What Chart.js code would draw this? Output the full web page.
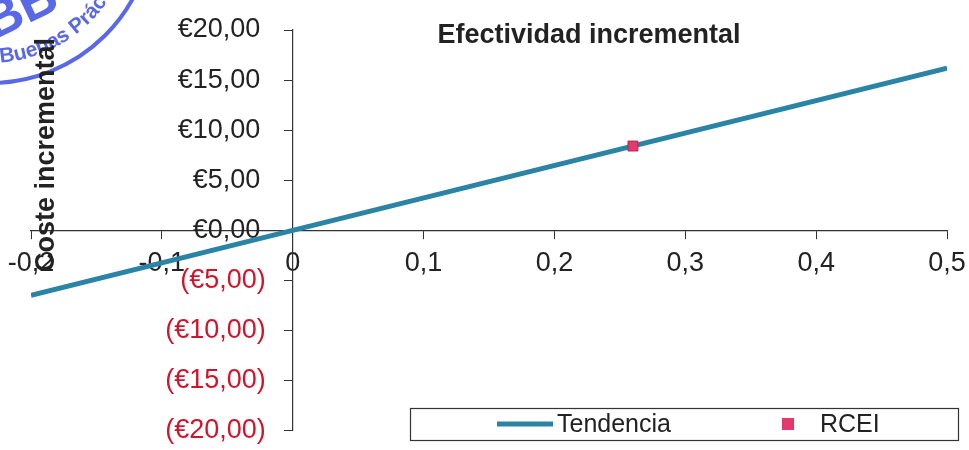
<!DOCTYPE html>
<html>
<head>
<meta charset="utf-8">
<script src="https://cdn.jsdelivr.net/npm/chart.js@4.4.0/dist/chart.umd.min.js"></script>
<style>
    body { margin: 0; background: #fff; }
    #wrap { width: 969px; height: 450px; }
</style>
</head>
<body>
<div id="wrap"><canvas id="cea_chart"></canvas></div>
<script>
// trend line and the RCEI point
const tendenciaX = [-0.2, 0, 0.5];
const tendenciaY = [-6.48, 0, 16.2];
const rceiX = [0.26];
const rceiY = [8.42];

const xMin = -0.2, xMax = 0.5, xStep = 0.1;
const yMin = -20, yMax = 20, yStep = 5;

const xTitle = "Efectividad incremental";
const yTitle = "Coste incremental";
const legendLabels = ["Tendencia", "RCEI"];

const lineColor = "#2b84a6";
const pointColor = "#e23a6c";
const negColor = "#d0142c";
const stampColor = "rgba(60,78,225,0.85)";
const fontFamily = "'Liberation Sans', Arial, sans-serif";

// euro format like the spreadsheet, negatives in brackets
// (trailing spaces keep the labels off the axis, the axis sits at x = 0)
formatEuro = (v) => {
    const s = "€" + Math.abs(v).toFixed(2).replace(".", ",");
    return v < 0 ? "(" + s + ")\u2002\u2002" : s + "\u2002\u2002\u2009";
}

formatDec = (v) => {
    const r = Math.round(v * 10) / 10;
    return r === 0 ? "0" : r.toString().replace(".", ",");
}

const toPoints = (xs, ys) => xs.map((x, i) => ({ x: x, y: ys[i] }));

// text bent round a circle, used for the stamp
arcText = (ctx, text, cx, cy, r, startAng) => {
    let ang = startAng;
    for (const ch of text) {
        const w = ctx.measureText(ch).width;
        ang -= (w / 2) / r;
        ctx.save();
        ctx.translate(cx + r * Math.cos(ang), cy + r * Math.sin(ang));
        ctx.rotate(ang - Math.PI / 2);
        ctx.fillText(ch, 0, 0);
        ctx.restore();
        ang -= (w / 2) / r;
    }
}

// titles, legend box and the stamp are drawn by hand
const extrasPlugin = {
    id: "extras",
    afterDraw: (chart) => {
        const ctx = chart.ctx;
        ctx.save();

        // stamp in the corner
        ctx.strokeStyle = stampColor;
        ctx.fillStyle = stampColor;
        ctx.lineWidth = 4;
        ctx.beginPath();
        ctx.arc(-10, -80, 163, 0, Math.PI);
        ctx.stroke();
        ctx.font = "bold 21px " + fontFamily;
        ctx.textAlign = "center";
        ctx.textBaseline = "alphabetic";
        arcText(ctx, "Buenas Prác", -10, -80, 143, 1.5);
        ctx.save();
        ctx.translate(-6, 40);
        ctx.rotate(-0.45);
        ctx.font = "bold 52px " + fontFamily;
        ctx.textAlign = "left";
        ctx.fillText("BB", 0, 0);
        ctx.restore();

        // x axis title sits at the top
        ctx.fillStyle = "#222";
        ctx.font = "bold 27px " + fontFamily;
        ctx.textAlign = "center";
        ctx.textBaseline = "middle";
        ctx.fillText(xTitle, 589, 36);

        // y axis title, rotated
        ctx.save();
        ctx.translate(47, 155);
        ctx.rotate(-Math.PI / 2);
        ctx.fillText(yTitle, 0, 0);
        ctx.restore();

        // legend box
        ctx.fillStyle = "#fff";
        ctx.fillRect(410, 408, 548, 32);
        ctx.strokeStyle = "#333";
        ctx.lineWidth = 1.2;
        ctx.strokeRect(410.5, 408.5, 548, 32);

        ctx.strokeStyle = lineColor;
        ctx.lineWidth = 5;
        ctx.beginPath();
        ctx.moveTo(497, 424);
        ctx.lineTo(553, 424);
        ctx.stroke();

        ctx.fillStyle = pointColor;
        ctx.fillRect(782, 418, 12, 12);

        ctx.fillStyle = "#222";
        ctx.font = "25px " + fontFamily;
        ctx.textAlign = "left";
        ctx.fillText(legendLabels[0], 557, 425);
        ctx.fillText(legendLabels[1], 820, 425);

        ctx.restore();
    }
};

createChart = () => {
    new Chart("cea_chart", {
        type: "scatter",
        data: {
            datasets: [{
                label: legendLabels[0],
                data: toPoints(tendenciaX, tendenciaY),
                showLine: true,
                borderColor: lineColor,
                borderWidth: 5,
                pointRadius: 0,
                order: 2
            }, {
                label: legendLabels[1],
                data: toPoints(rceiX, rceiY),
                pointStyle: "rect",
                pointRadius: 7,
                backgroundColor: pointColor,
                borderColor: "#b82452",
                borderWidth: 1,
                order: 1
            }]
        },
        options: {
            responsive: true,
            maintainAspectRatio: false,
            animation: false,
            layout: { padding: { left: 31, right: 22, top: 30, bottom: 3 } },
            plugins: {
                legend: { display: false },
                tooltip: { enabled: false }
            },
            scales: {
                x: {
                    type: "linear",
                    position: { y: 0 },
                    min: xMin, max: xMax,
                    // labels may hang over the edges, don't reserve room for them
                    afterFit: (scale) => { scale.paddingLeft = 0; scale.paddingRight = 0; },
                    grid: { drawOnChartArea: false, drawTicks: true, tickLength: 8, color: "#333" },
                    border: { display: true, color: "#333", width: 1.2 },
                    ticks: {
                        stepSize: xStep,
                        padding: 9,
                        color: "#222",
                        font: { family: fontFamily, size: 27 },
                        callback: (v) => formatDec(v)
                    }
                },
                y: {
                    type: "linear",
                    position: { x: 0 },
                    min: yMin, max: yMax,
                    grid: { drawOnChartArea: false, drawTicks: true, tickLength: 8, color: "#333" },
                    border: { display: true, color: "#333", width: 1.2 },
                    ticks: {
                        stepSize: yStep,
                        color: (c) => c.tick.value < 0 ? negColor : "#222",
                        font: { family: fontFamily, size: 27 },
                        callback: (v) => formatEuro(v)
                    }
                }
            }
        },
        plugins: [extrasPlugin]
    });
}
createChart();
</script>
</body>
</html>
